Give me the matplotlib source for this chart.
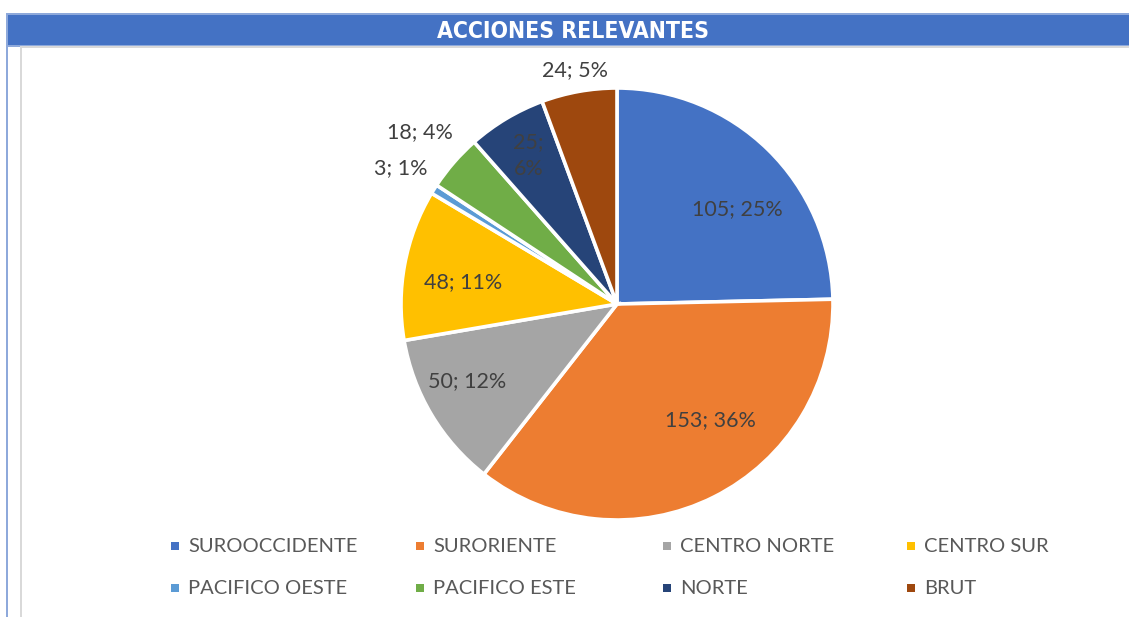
import matplotlib
matplotlib.use("Agg")
import matplotlib.pyplot as plt
from matplotlib.patches import Rectangle
import numpy as np

# ---- data ----
categories = ["SUROOCCIDENTE", "SURORIENTE", "CENTRO NORTE", "CENTRO SUR",
              "PACIFICO OESTE", "PACIFICO ESTE", "NORTE", "BRUT"]
values = [105, 153, 50, 48, 3, 18, 25, 24]
percent_labels = ["25%", "36%", "12%", "11%", "1%", "4%", "6%", "5%"]
title = "ACCIONES RELEVANTES"

# ---- style ----
colors = ["#4472C4", "#ED7D31", "#A5A5A5", "#FFC000",
          "#5B9BD5", "#70AD47", "#264478", "#9E480E"]
label_dist = [0.71, 0.69, 0.78, 0.72, 1.18, 1.21, 0.80, 1.10]
label_dtheta = [7.5, -12.0, 3.5, -2.5, 0.0, 0.0, 0.0, 0.0]  # degrees clockwise
label_sep = ["; ", "; ", "; ", "; ", "; ", "; ", ";\n", "; "]
plt.rcParams['font.family'] = ['Lato', 'DejaVu Sans']

W, H = 1129, 617
fig = plt.figure(figsize=(W / 100, H / 100), dpi=100)

def fx(px):
    return px / W

def fy(py):
    return 1 - py / H

# frame and header
fig.patches.append(Rectangle((fx(6), fy(47)), fx(W - 6), 34 / H, transform=fig.transFigure,
                             facecolor="#8EA9DB", edgecolor="none", zorder=0))
fig.patches.append(Rectangle((fx(8), fy(45)), fx(W - 8), 30 / H, transform=fig.transFigure,
                             facecolor="#4472C4", edgecolor="none", zorder=1))
fig.patches.append(Rectangle((fx(6), 0), fx(2), fy(13), transform=fig.transFigure,
                             facecolor="#8EA9DB", edgecolor="none", zorder=1))
fig.patches.append(Rectangle((fx(20), 0), fx(2), fy(46), transform=fig.transFigure,
                             facecolor="#D9D9D9", edgecolor="none", zorder=1))
fig.patches.append(Rectangle((fx(20), fy(48)), fx(W - 20), 2 / H, transform=fig.transFigure,
                             facecolor="#D9D9D9", edgecolor="none", zorder=1))
fig.text(fx(573), fy(31), title, ha="center", va="center", color="white",
         fontsize=16.5, fontweight="bold", fontstretch="condensed",
         family=["DejaVu Sans"], zorder=3)

# pie
cx, cy, R = 617, 304, 216
ax = fig.add_axes([fx(cx - R), 1 - (cy + R) / H, 2 * R / W, 2 * R / H])
ax.set_xlim(-1, 1)
ax.set_ylim(-1, 1)
ax.set_aspect("equal")
ax.axis("off")
wedges, _ = ax.pie(values, colors=colors, startangle=90, counterclock=False, radius=1,
                   wedgeprops=dict(edgecolor="white", linewidth=2.6))
ax.set_xlim(-1, 1)
ax.set_ylim(-1, 1)

for w, v, p, d, dt, sep in zip(wedges, values, percent_labels, label_dist, label_dtheta, label_sep):
    mid = (w.theta1 + w.theta2) / 2 - dt
    ang = np.deg2rad(mid)
    ax.text(d * np.cos(ang), d * np.sin(ang), f"{v}{sep}{p}", ha="center", va="center",
            fontsize=15.5, color="#404040", linespacing=1.45)

# legend (manual grid)
col_x = [175, 420, 667, 911]
row_y = [546, 588]
for i, (cat, col) in enumerate(zip(categories, colors)):
    x = col_x[i % 4]
    y = row_y[i // 4]
    fig.patches.append(Rectangle((fx(x - 4), fy(y + 4)), 8 / W, 8 / H, transform=fig.transFigure,
                                 facecolor=col, edgecolor="none"))
    fig.text(fx(x + 13), fy(y), cat, ha="left", va="center", fontsize=14.5, color="#595959")

fig.savefig("out.png", dpi=100)
